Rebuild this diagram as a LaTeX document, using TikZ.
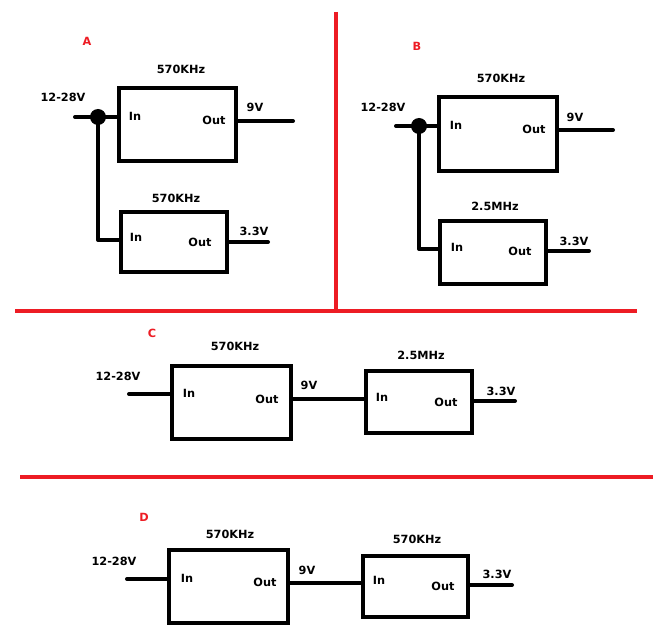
\documentclass[tikz,border=0pt]{standalone}
\usepackage{fontspec}
\setsansfont{DejaVu Sans}
\definecolor{paintred}{RGB}{237,28,36}
\tikzset{
  regbox/.style={draw, line width=4pt, inner sep=0pt},
  wire/.style={line width=4pt, line cap=round, line join=round},
  lbl/.style={font=\sffamily\bfseries\fontsize{11.3}{13}\selectfont, inner sep=0pt},
  sect/.style={lbl, text=paintred},
  divider/.style={draw=paintred, line width=4pt},
  junction/.style={circle, fill=black, minimum size=16pt, inner sep=0pt}
}
\begin{document}
\begin{tikzpicture}[x=1pt, y=-1pt]
  \useasboundingbox (0,0) rectangle (671,636);
  % dividers
  \coordinate (vtop) at (336,12);
  \coordinate (vbot) at (336,311);
  \coordinate (h1l) at (15,311);
  \coordinate (h1r) at (637,311);
  \coordinate (h2l) at (20,477);
  \coordinate (h2r) at (653,477);
  \draw[divider] (vtop) -- (vbot);
  \draw[divider] (h1l) -- (h1r);
  \draw[divider] (h2l) -- (h2r);

  % A
  \node[sect] (labA) at (87,41) {A};
  \node[regbox, minimum width=117pt, minimum height=73pt] (A1) at (177.5,124.5) {};
  \node[regbox, minimum width=106pt, minimum height=60pt] (A2) at (174,242) {};
  \node[lbl] (fA1) at (181,69) {570KHz};
  \node[lbl] (fA2) at (176,198) {570KHz};
  \node[lbl] (vinA) at (63,97) {12-28V};
  \node[lbl] (inA1) at (135,116) {In};
  \node[lbl] (outA1) at (214,120) {Out};
  \node[lbl] (inA2) at (136,237) {In};
  \node[lbl] (outA2) at (200,242) {Out};
  \node[lbl] (v9A) at (255,107) {9V};
  \node[lbl] (v33A) at (254,231) {3.3V};
  \coordinate (srcA) at (75,117);
  \node[junction] (jA) at (98,117) {};
  \coordinate (tapA) at (98,240);
  \coordinate (endA1) at (293,121);
  \coordinate (endA2) at (268,242);
  \draw[wire] (srcA) -- (srcA -| A1.west);
  \draw[wire] (jA.center) -- (tapA) -- (tapA -| A2.west);
  \draw[wire] (endA1 -| A1.east) -- (endA1);
  \draw[wire] (endA2 -| A2.east) -- (endA2);

  % B
  \node[sect] (labB) at (417,46) {B};
  \node[regbox, minimum width=118pt, minimum height=74pt] (B1) at (498,134) {};
  \node[regbox, minimum width=106pt, minimum height=63pt] (B2) at (493,252.5) {};
  \node[lbl] (fB1) at (501,78) {570KHz};
  \node[lbl] (fB2) at (495,206) {2.5MHz};
  \node[lbl] (vinB) at (383,107) {12-28V};
  \node[lbl] (inB1) at (456,125) {In};
  \node[lbl] (outB1) at (534,129) {Out};
  \node[lbl] (inB2) at (457,247) {In};
  \node[lbl] (outB2) at (520,251) {Out};
  \node[lbl] (v9B) at (575,117) {9V};
  \node[lbl] (v33B) at (574,241) {3.3V};
  \coordinate (srcB) at (396,126);
  \node[junction] (jB) at (419,126) {};
  \coordinate (tapB) at (419,249);
  \coordinate (endB1) at (613,130);
  \coordinate (endB2) at (589,251);
  \draw[wire] (srcB) -- (srcB -| B1.west);
  \draw[wire] (jB.center) -- (tapB) -- (tapB -| B2.west);
  \draw[wire] (endB1 -| B1.east) -- (endB1);
  \draw[wire] (endB2 -| B2.east) -- (endB2);

  % C
  \node[sect] (labC) at (152,333) {C};
  \node[regbox, minimum width=119pt, minimum height=73pt] (C1) at (231.5,402.5) {};
  \node[regbox, minimum width=106pt, minimum height=62pt] (C2) at (419,402) {};
  \node[lbl] (fC1) at (235,346) {570KHz};
  \node[lbl] (fC2) at (421,355) {2.5MHz};
  \node[lbl] (vinC) at (118,376) {12-28V};
  \node[lbl] (inC1) at (189,393) {In};
  \node[lbl] (outC1) at (267,399) {Out};
  \node[lbl] (inC2) at (382,397) {In};
  \node[lbl] (outC2) at (446,402) {Out};
  \node[lbl] (v9C) at (309,385) {9V};
  \node[lbl] (v33C) at (501,391) {3.3V};
  \coordinate (srcC) at (129,394);
  \coordinate (midC) at (330,399);
  \coordinate (endC) at (515,401);
  \draw[wire] (srcC) -- (srcC -| C1.west);
  \draw[wire] (midC -| C1.east) -- (midC -| C2.west);
  \draw[wire] (endC -| C2.east) -- (endC);

  % D
  \node[sect] (labD) at (144,517) {D};
  \node[regbox, minimum width=119pt, minimum height=73pt] (D1) at (228.5,586.5) {};
  \node[regbox, minimum width=105pt, minimum height=61pt] (D2) at (415.5,586.5) {};
  \node[lbl] (fD1) at (230,534) {570KHz};
  \node[lbl] (fD2) at (417,539) {570KHz};
  \node[lbl] (vinD) at (114,561) {12-28V};
  \node[lbl] (inD1) at (187,578) {In};
  \node[lbl] (outD1) at (265,582) {Out};
  \node[lbl] (inD2) at (379,580) {In};
  \node[lbl] (outD2) at (443,586) {Out};
  \node[lbl] (v9D) at (307,570) {9V};
  \node[lbl] (v33D) at (497,574) {3.3V};
  \coordinate (srcD) at (127,579);
  \coordinate (midD) at (325,583);
  \coordinate (endD) at (512,585);
  \draw[wire] (srcD) -- (srcD -| D1.west);
  \draw[wire] (midD -| D1.east) -- (midD -| D2.west);
  \draw[wire] (endD -| D2.east) -- (endD);
\end{tikzpicture}
\end{document}
